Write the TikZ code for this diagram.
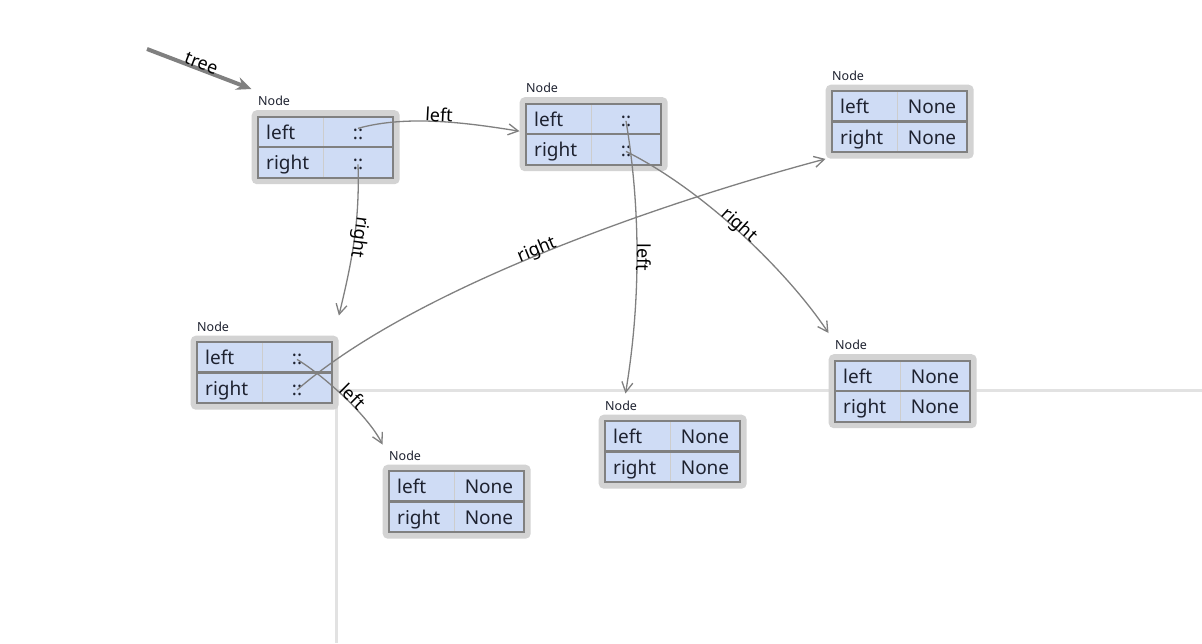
\documentclass[tikz,border=0pt]{standalone}
\usepackage{fontspec}
\setmainfont{Noto Sans}
\usetikzlibrary{arrows.meta}
\definecolor{framegray}{RGB}{211,211,211}
\definecolor{cellblue}{RGB}{207,220,245}
\definecolor{bordergray}{RGB}{128,128,128}
\definecolor{sepgray}{RGB}{205,205,205}
\definecolor{guidegray}{RGB}{226,226,226}
\definecolor{edgegray}{RGB}{128,128,128}
\definecolor{celltext}{RGB}{30,34,48}
\tikzset{
 objframe/.style={fill=framegray, rounded corners=5pt, minimum width=148pt, minimum height=74pt, inner sep=0pt, draw=none},
 typelabel/.style={font=\fontsize{12.5pt}{14pt}\selectfont, text=celltext, inner sep=0pt},
 keytext/.style={font=\fontsize{19pt}{22pt}\selectfont, text=celltext, inner sep=0pt, anchor=base west},
 valtext/.style={font=\fontsize{19pt}{22pt}\selectfont, text=celltext, inner sep=0pt, anchor=base},
 ptr/.style={draw=edgegray, line width=1.3pt, -{Straight Barb[length=10pt,width=11pt]}},
 treeptr/.style={draw=edgegray, line width=4pt, -{Stealth[length=15pt,width=13pt]}},
 edgelabel/.style={font=\fontsize{18pt}{20pt}\selectfont, sloped, allow upside down, anchor=base, inner sep=1pt, text=black},
 guide/.style={draw=guidegray, line width=3pt},
}
\newcommand\mkobj[5]{%
 \node[objframe, anchor=north west] (#1) at (#2-6.5,#3-6.5) {};
 \node[typelabel, anchor=base west] (#1-type) at (#2,#3-11) {Node};
 \fill[cellblue] (#2,#3) rectangle ++(135,61);
 \draw[sepgray, line width=1pt] (#2+65,#3) -- ++(0,61);
 \draw[bordergray, line width=2.6pt] (#2,#3+30.5) -- ++(135,0);
 \draw[bordergray, line width=2pt] (#2,#3) rectangle ++(135,61);
 \node[keytext] (#1-lk) at (#2+8,#3+22.5) {left};
 \node[keytext] (#1-rk) at (#2+8,#3+53) {right};
 \node[valtext] (#1-l) at (#2+100,#3+22.5) {#4};
 \node[valtext] (#1-r) at (#2+100,#3+53) {#5};
}
\begin{document}
\begin{tikzpicture}[x=1pt,y=-1pt]
\fill[white] (0,0) rectangle (1202,643);
\useasboundingbox (0,0) rectangle (1202,643);
% guide lines
\coordinate (gcorner) at (336,390);
\coordinate (gright) at (1202,390);
\coordinate (gbottom) at (336,643);
\draw[guide] (gcorner) -- (gright);
\draw[guide] (gcorner) -- (gbottom);
% objects
\mkobj{A}{258}{116.5}{::}{::}
\mkobj{B}{526}{103.5}{::}{::}
\mkobj{C}{832}{91}{None}{None}
\mkobj{D}{197}{342}{::}{::}
\mkobj{E}{835}{360.5}{None}{None}
\mkobj{F}{605}{421}{None}{None}
\mkobj{G}{389}{471}{None}{None}
% tree variable
\coordinate (treestart) at (147,49);
\draw[treeptr] (treestart) -- ([yshift=21pt]A.north west) node[edgelabel,pos=0.5]{tree};
% pointers
\draw[ptr] (A-l.north) .. controls +(50,-14) and +(-50,-8) .. ([yshift=3pt]B.west) node[edgelabel,pos=0.5]{left};
\draw[ptr] (A-r.center) .. controls +(2,60) and +(12,-50) .. ([yshift=20pt]D.north east) node[edgelabel,pos=0.45]{right};
\draw[ptr] (B-l.center) .. controls +(15,90) and +(15,-90) .. ([shift={(27pt,21pt)}]F.north west) node[edgelabel,pos=0.5]{left};
\draw[ptr] (B-r.center) .. controls +(80,40) and +(-40,-60) .. ([yshift=21pt]E.north west) node[edgelabel,pos=0.47]{right};
\draw[ptr] (D-l.center) .. controls +(25,15) and +(-15,-30) .. ([yshift=20pt]G.north west) node[edgelabel,pos=0.55]{left};
\draw[ptr] (D-r.center) .. controls +(122,-106) and +(-150,40) .. (C.south west) node[edgelabel,pos=0.48]{right};
\end{tikzpicture}
\end{document}
